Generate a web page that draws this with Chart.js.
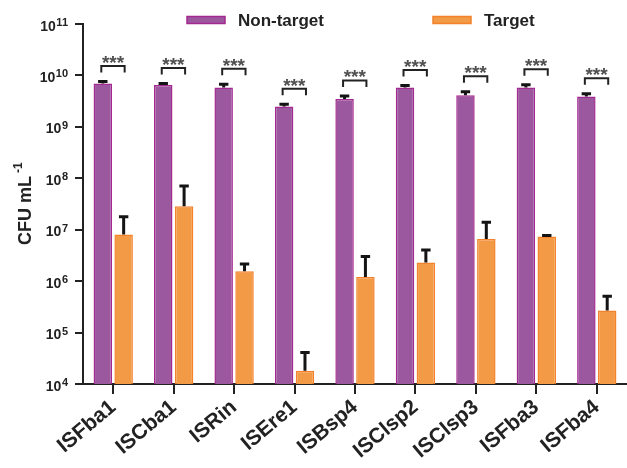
<!DOCTYPE html>
<html>
<head>
<meta charset="utf-8">
<script src="https://cdn.jsdelivr.net/npm/chart.js@4/dist/chart.umd.min.js"></script>
<style>
  html, body { margin: 0; padding: 0; background: #ffffff; }
  #wrap { width: 627px; height: 468px; position: relative; }
</style>
</head>
<body>
<div id="wrap"><canvas id="chart" width="627" height="468"></canvas></div>
<script>
// Strains on the x axis
const categories = ['ISFba1', 'ISCba1', 'ISRin', 'ISEre1', 'ISBsp4', 'ISClsp2', 'ISClsp3', 'ISFba3', 'ISFba4'];

// CFU mL-1, mean values
const nonTarget = [7.0e9, 6.5e9, 5.8e9, 2.5e9, 3.5e9, 5.8e9, 4.1e9, 5.8e9, 3.9e9];
const target = [8.1e6, 2.85e7, 1.55e6, 1.8e4, 1.2e6, 2.3e6, 6.6e6, 7.4e6, 2.7e5];

// upper error (SD) added on top of each mean
const nonTargetErr = [0.6e9, 0.45e9, 0.9e9, 0.25e9, 0.5e9, 0.6e9, 0.7e9, 0.8e9, 0.5e9];
const targetErr = [9.7e6, 4.2e7, 0.6e6, 2.3e4, 1.8e6, 1.75e6, 7.4e6, 0.3e6, 2.4e5];

// significance mark for each pair
const significance = ['***', '***', '***', '***', '***', '***', '***', '***', '***'];

// y axis decades shown as 10^n
const yTickExponents = [4, 5, 6, 7, 8, 9, 10, 11];

const FONT = "'Liberation Sans', Arial, Helvetica, sans-serif";
const INK = '#222222';
Chart.defaults.font.family = FONT;

// whiskers with caps above every bar
const errorBarPlugin = {
  id: 'errorBars',
  afterDatasetsDraw(chart) {
    const { ctx } = chart;
    const y = chart.scales.y;
    chart.data.datasets.forEach((ds, i) => {
      const meta = chart.getDatasetMeta(i);
      meta.data.forEach((bar, j) => {
        const top = y.getPixelForValue(ds.data[j] + ds.errorBars[j]);
        ctx.save();
        ctx.strokeStyle = '#141414';
        ctx.lineWidth = 3;
        ctx.lineCap = 'butt';
        ctx.beginPath();
        ctx.moveTo(bar.x, bar.y);
        ctx.lineTo(bar.x, top);
        ctx.moveTo(bar.x - 4.7, top);
        ctx.lineTo(bar.x + 4.7, top);
        ctx.stroke();
        ctx.restore();
      });
    });
  }
};

// bracket with stars over each pair
const significancePlugin = {
  id: 'significance',
  afterDatasetsDraw(chart) {
    const { ctx } = chart;
    const y = chart.scales.y;
    const a = chart.getDatasetMeta(0).data;
    const b = chart.getDatasetMeta(1).data;
    significance.forEach((mark, j) => {
      const capTop = y.getPixelForValue(nonTarget[j] + nonTargetErr[j]) - 1.5;
      const top = capTop - 14;
      const x1 = a[j].x - 1.5, x2 = b[j].x + 1;
      ctx.save();
      ctx.strokeStyle = INK;
      ctx.lineWidth = 2;
      ctx.beginPath();
      ctx.moveTo(x1, top + 6.5);
      ctx.lineTo(x1, top);
      ctx.lineTo(x2, top);
      ctx.lineTo(x2, top + 6.5);
      ctx.stroke();
      ctx.fillStyle = '#505050';
      ctx.font = 'bold 19px ' + FONT;
      ctx.textAlign = 'center';
      ctx.textBaseline = 'alphabetic';
      ctx.fillText(mark, (x1 + x2) / 2, top + 3);
      ctx.restore();
    });
  }
};

// "10" with a raised exponent at every decade, plus the rotated axis title
const axisTextPlugin = {
  id: 'axisText',
  afterDraw(chart) {
    const { ctx } = chart;
    const y = chart.scales.y;
    ctx.save();
    ctx.fillStyle = INK;
    ctx.textAlign = 'right';
    ctx.textBaseline = 'alphabetic';
    yTickExponents.forEach(e => {
      const py = y.getPixelForValue(Math.pow(10, e));
      ctx.font = 'bold 11px ' + FONT;
      const exp = String(e);
      const w = ctx.measureText(exp).width;
      ctx.fillText(exp, 68, py + 2);
      ctx.font = 'bold 14px ' + FONT;
      ctx.fillText('10', 68 - w - 0.5, py + 6.5);
    });
    ctx.restore();

    ctx.save();
    ctx.fillStyle = INK;
    ctx.translate(31, 245);
    ctx.rotate(-Math.PI / 2);
    ctx.textAlign = 'left';
    ctx.textBaseline = 'alphabetic';
    ctx.font = 'bold 18px ' + FONT;
    const main = 'CFU mL';
    const mw = ctx.measureText(main).width;
    ctx.fillText(main, 0, 0);
    ctx.font = 'bold 12px ' + FONT;
    ctx.fillText('-1', mw + 3, -9);
    ctx.restore();
  }
};

// legend row along the top
const legendPlugin = {
  id: 'topLegend',
  afterDraw(chart) {
    const { ctx } = chart;
    const slots = [187, 433];
    ctx.save();
    chart.data.datasets.forEach((ds, i) => {
      const x = slots[i];
      ctx.fillStyle = ds.backgroundColor;
      ctx.fillRect(x, 16.5, 38, 7);
      ctx.strokeStyle = ds.borderColor;
      ctx.lineWidth = 1.5;
      ctx.strokeRect(x, 16.5, 38, 7);
      ctx.fillStyle = INK;
      ctx.font = 'bold 17px ' + FONT;
      ctx.textAlign = 'left';
      ctx.textBaseline = 'alphabetic';
      ctx.fillText(ds.label, x + 51, 26);
    });
    ctx.restore();
  }
};

new Chart(document.getElementById('chart'), {
  type: 'bar',
  data: {
    labels: categories,
    datasets: [
      {
        label: 'Non-target',
        data: nonTarget,
        errorBars: nonTargetErr,
        backgroundColor: '#9b589f',
        borderColor: '#a3288f',
        borderWidth: 1.5
      },
      {
        label: 'Target',
        data: target,
        errorBars: targetErr,
        backgroundColor: '#f39a46',
        borderColor: '#f3822b',
        borderWidth: 1.5
      }
    ]
  },
  options: {
    responsive: false,
    animation: false,
    layout: { padding: { top: 24, left: 0, right: 0, bottom: 0 } },
    datasets: { bar: { categoryPercentage: 0.69, barPercentage: 0.885 } },
    plugins: {
      legend: { display: false },
      tooltip: { enabled: false }
    },
    scales: {
      x: {
        grid: { drawOnChartArea: false, offset: false, tickLength: 10, color: INK, lineWidth: 2 },
        border: { display: true, color: INK, width: 2 },
        ticks: {
          color: INK,
          font: { size: 21, weight: 'bold' },
          minRotation: 40,
          maxRotation: 40,
          padding: 1
        },
        afterFit(scale) { scale.height = 84; }
      },
      y: {
        type: 'logarithmic',
        min: 1e4,
        max: 1e11,
        afterBuildTicks(scale) {
          scale.ticks = yTickExponents.map(e => ({ value: Math.pow(10, e) }));
        },
        ticks: { callback: () => '' },
        grid: { drawOnChartArea: false, tickLength: 8, color: INK, lineWidth: 2 },
        border: { display: true, color: INK, width: 2 },
        afterFit(scale) { scale.width = 83; }
      }
    }
  },
  plugins: [errorBarPlugin, significancePlugin, axisTextPlugin, legendPlugin]
});
</script>
</body>
</html>
